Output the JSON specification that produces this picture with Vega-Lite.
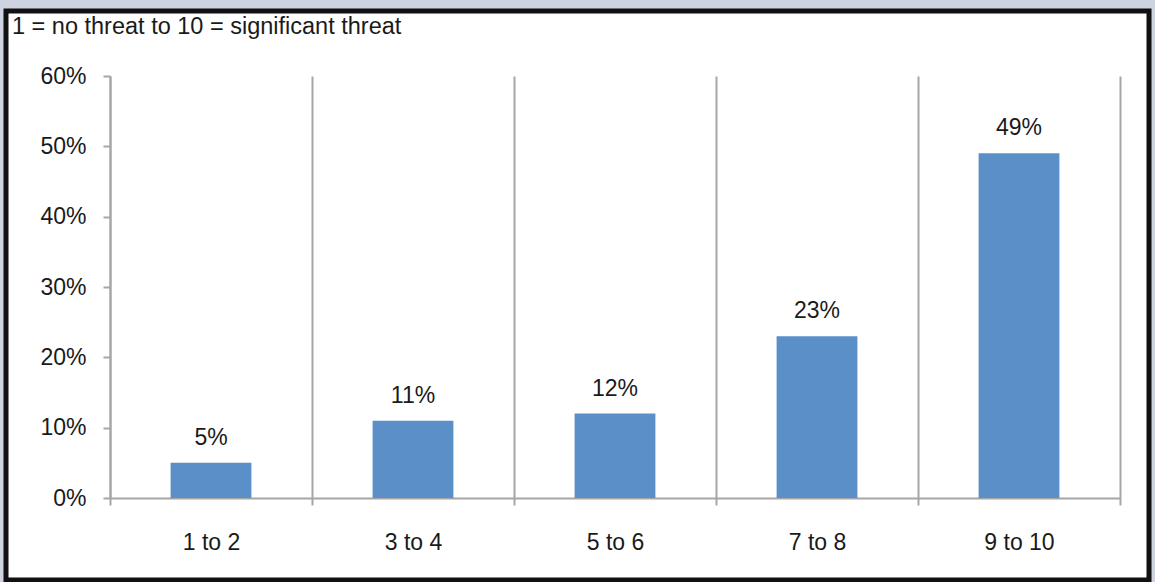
{
  "$schema": "https://vega.github.io/schema/vega-lite/v6.json",
  "autosize": "none",
  "width": 1143,
  "height": 569,
  "padding": {"left": 6, "top": 11, "right": 6, "bottom": 2},
  "background": "#cdd3e1",
  "title": {
    "text": "1 = no threat to 10 = significant threat",
    "anchor": "start",
    "frame": "group",
    "orient": "top",
    "offset": -27,
    "dx": 6,
    "font": "Liberation Sans",
    "fontSize": 23.5,
    "fontWeight": "normal",
    "color": "#1a1a1a"
  },
  "data": {
    "values": [
      {"score": "1 to 2", "share": 0.05},
      {"score": "3 to 4", "share": 0.11},
      {"score": "5 to 6", "share": 0.12},
      {"score": "7 to 8", "share": 0.23},
      {"score": "9 to 10", "share": 0.49}
    ]
  },
  "config": {
    "font": "Liberation Sans",
    "view": {"stroke": "#111111", "strokeWidth": 5, "fill": "#ffffff"}
  },
  "encoding": {
    "y": {
      "field": "share",
      "type": "quantitative",
      "scale": {"domain": [0, 0.6], "range": [487, 65]},
      "axis": {
        "title": null,
        "values": [0, 0.1, 0.2, 0.3, 0.4, 0.5, 0.6],
        "format": ".0%",
        "grid": false,
        "domainColor": "#a6a6a6",
        "domainWidth": 2,
        "tickColor": "#a6a6a6",
        "tickWidth": 2,
        "tickSize": 7,
        "labelPadding": 17,
        "labelFont": "Liberation Sans",
        "labelFontSize": 23,
        "labelColor": "#1a1a1a",
        "offset": -104
      }
    }
  },
  "layer": [
    {
      "mark": {"type": "bar", "color": "#5b8fc7", "width": {"band": 0.4}},
      "encoding": {
        "x": {
          "field": "score",
          "type": "nominal",
          "sort": null,
          "scale": {"range": [104, 1114], "paddingInner": 0, "paddingOuter": 0},
          "axis": {
            "title": null,
            "orient": "bottom",
            "tickBand": "extent",
            "grid": false,
            "domainColor": "#a6a6a6",
            "domainWidth": 2,
            "tickColor": "#a6a6a6",
            "tickWidth": 2,
            "tickSize": 7,
            "labelPadding": 26,
            "labelAngle": 0,
            "labelFont": "Liberation Sans",
            "labelFontSize": 23,
            "labelColor": "#1a1a1a",
            "offset": -82
          }
        }
      }
    },
    {
      "mark": {"type": "text", "baseline": "alphabetic", "dy": -18, "fontSize": 23, "color": "#1a1a1a", "font": "Liberation Sans"},
      "encoding": {
        "x": {
          "field": "score",
          "type": "nominal",
          "sort": null,
          "axis": {
            "title": null,
            "orient": "top",
            "tickBand": "extent",
            "grid": true,
            "gridColor": "#a6a6a6",
            "gridWidth": 2,
            "domain": false,
            "ticks": false,
            "labels": false
          }
        },
        "text": {"field": "share", "type": "quantitative", "format": ".0%"}
      }
    }
  ],
  "resolve": {"axis": {"x": "independent"}}
}
